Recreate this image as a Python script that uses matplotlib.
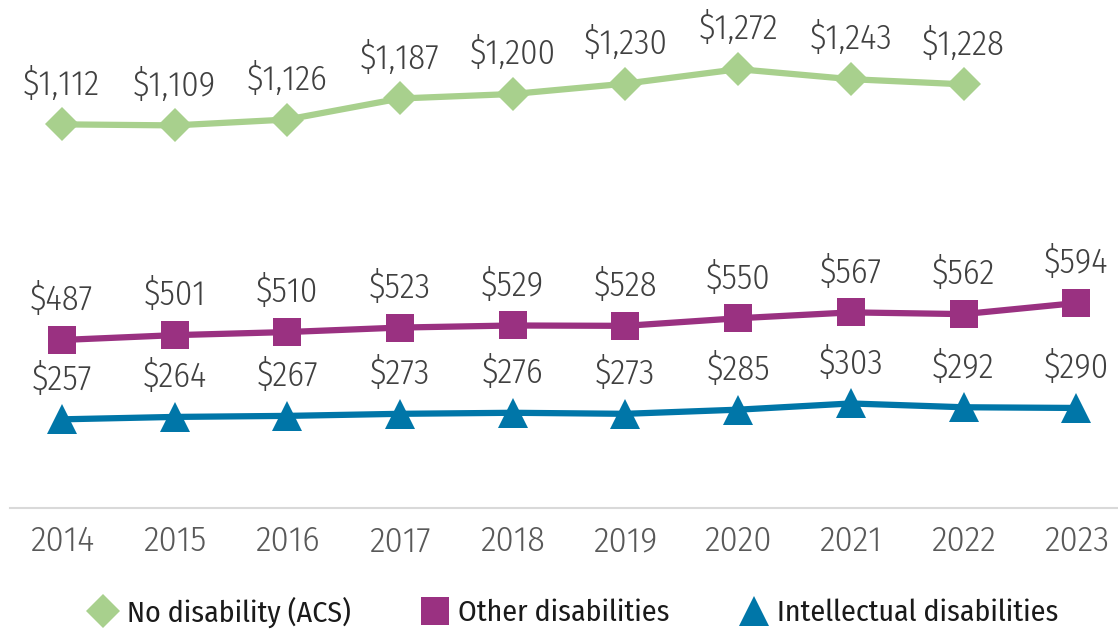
import matplotlib
matplotlib.use("Agg")
import matplotlib.pyplot as plt
import numpy as np
from matplotlib.lines import Line2D

years = ["2014", "2015", "2016", "2017", "2018", "2019", "2020", "2021", "2022", "2023"]
no_disability = [1112, 1109, 1126, 1187, 1200, 1230, 1272, 1243, 1228]
other_disabilities = [487, 501, 510, 523, 529, 528, 550, 567, 562, 594]
intellectual = [257, 264, 267, 273, 276, 273, 285, 303, 292, 290]
series_names = ["No disability (ACS)", "Other disabilities", "Intellectual disabilities"]

plt.rcParams["font.family"] = ["Fira Sans Condensed", "Open Sans", "DejaVu Sans"]
plt.rcParams["font.weight"] = 300

GREEN = "#A8D08D"
PURPLE = "#9A3181"
BLUE = "#0076A8"

fig = plt.figure(figsize=(11.18, 6.3), dpi=100)
ax = fig.add_axes([10 / 1118, 1 - 508 / 630, 1 - 10 / 1118, (508 - 25) / 630])

styles = [
    (no_disability, GREEN, "D", 17),
    (other_disabilities, PURPLE, "s", 19.5),
    (intellectual, BLUE, "^", 21),
]

for vals, color, marker, ms in styles:
    x = np.arange(len(vals))
    ax.plot(x, vals, color=color, lw=4.5, marker=marker, ms=ms,
            markeredgewidth=0, solid_capstyle="round", zorder=3)
    for xi, v in zip(x, vals):
        ax.annotate(f"${v:,}", (xi, v), xytext=(0, 29), textcoords="offset points",
                    ha="center", va="center", fontsize=25, color="#404040")

ax.set_xlim(-0.46, 9.37)
ax.set_ylim(0, 1400)
ax.set_xticks(np.arange(len(years)))
ax.set_xticklabels(years)
ax.tick_params(axis="x", length=0, pad=12, labelsize=26, labelcolor="#595959")
ax.set_yticks([])
for side in ["top", "left", "right"]:
    ax.spines[side].set_visible(False)
ax.spines["bottom"].set_color("#D9D9D9")
ax.spines["bottom"].set_linewidth(1.5)

handles = [
    Line2D([], [], ls="none", marker="D", ms=17, color=GREEN, markeredgewidth=0),
    Line2D([], [], ls="none", marker="s", ms=19.5, color=PURPLE, markeredgewidth=0),
    Line2D([], [], ls="none", marker="^", ms=21, color=BLUE, markeredgewidth=0),
]
fig.legend(handles, series_names, loc="center", bbox_to_anchor=(0.513, 1 - 612 / 630),
           ncol=3, frameon=False, handlelength=1.0, handletextpad=0.3,
           columnspacing=2.3, labelcolor="#1a1a1a",
           prop={"family": "Fira Sans Condensed", "weight": 400, "size": 21.5})

fig.savefig("out.png", dpi=100)
